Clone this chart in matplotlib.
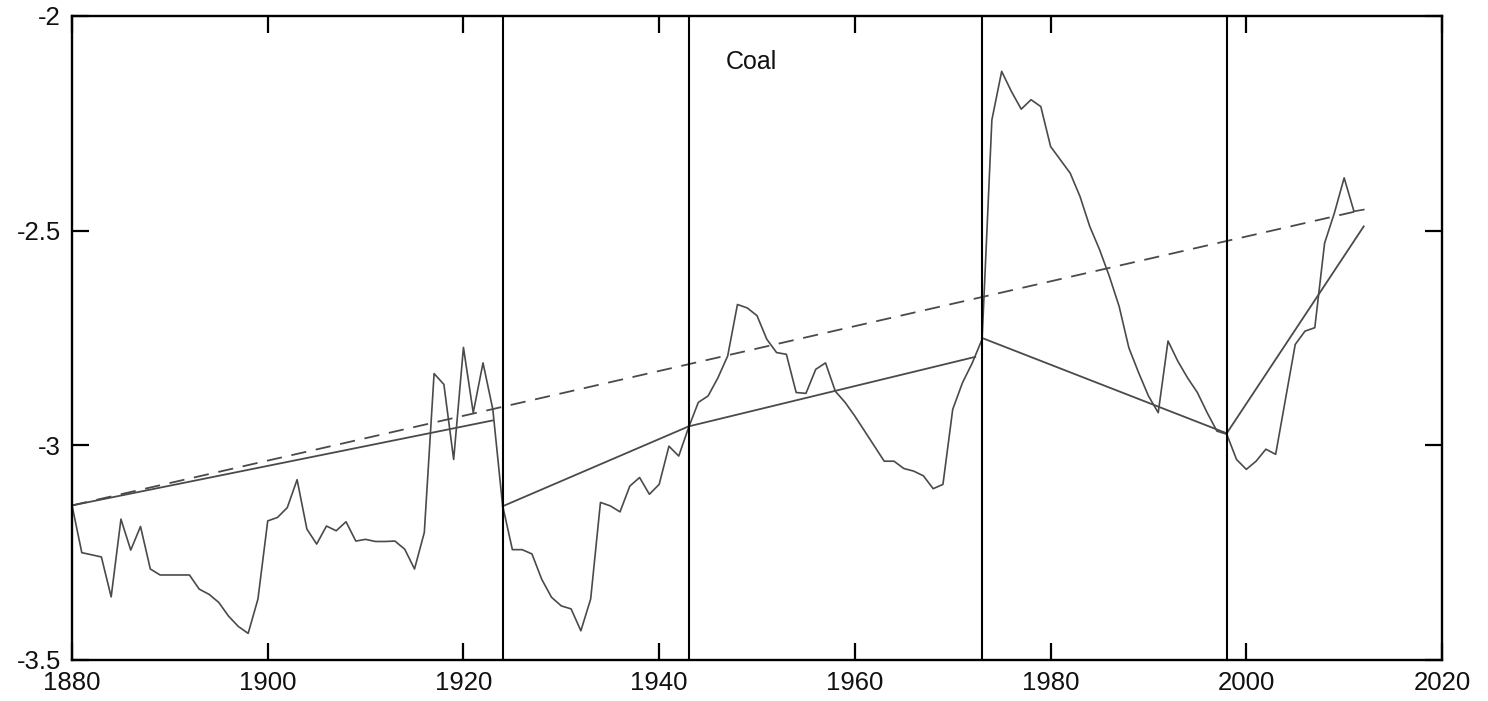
import numpy as np
import matplotlib
matplotlib.use('Agg')
import matplotlib.pyplot as plt

# annual series, 1880-2012
years = list(range(1880, 2013))
coal = [
    -3.140, -3.250, -3.255, -3.260, -3.353, -3.172, -3.244, -3.189, -3.288, -3.302,  # 1880s
    -3.302, -3.302, -3.302, -3.335, -3.347, -3.366, -3.398, -3.422, -3.438, -3.358,  # 1890s
    -3.176, -3.168, -3.145, -3.080, -3.195, -3.230, -3.188, -3.199, -3.178, -3.223,  # 1900s
    -3.219, -3.224, -3.224, -3.223, -3.242, -3.288, -3.203, -2.833, -2.858, -3.033,  # 1910s
    -2.772, -2.924, -2.808, -2.916, -3.140, -3.243, -3.243, -3.253, -3.312, -3.354,  # 1920s
    -3.374, -3.381, -3.432, -3.358, -3.133, -3.141, -3.155, -3.095, -3.075, -3.114,  # 1930s
    -3.091, -3.002, -3.025, -2.959, -2.900, -2.885, -2.843, -2.792, -2.672, -2.680,  # 1940s
    -2.698, -2.753, -2.784, -2.788, -2.877, -2.879, -2.823, -2.808, -2.874, -2.900,  # 1950s
    -2.932, -2.967, -3.002, -3.037, -3.037, -3.054, -3.060, -3.071, -3.101, -3.091,  # 1960s
    -2.916, -2.854, -2.808, -2.753, -2.242, -2.129, -2.176, -2.217, -2.195, -2.211,  # 1970s
    -2.304, -2.335, -2.366, -2.420, -2.490, -2.544, -2.606, -2.676, -2.773, -2.831,  # 1980s
    -2.885, -2.924, -2.757, -2.804, -2.843, -2.877, -2.924, -2.967, -2.974, -3.033,  # 1990s
    -3.056, -3.037, -3.009, -3.021, -2.893, -2.765, -2.734, -2.726, -2.529, -2.459,  # 2000s
    -2.377, -2.455, -2.451,                                                          # 2010s
]

# break dates (vertical lines)
breaks = [1924, 1943, 1973, 1998]

# segmented trend: start/end of each piece
seg_x0 = [1880, 1924, 1943, 1973, 1998]
seg_x1 = [1923, 1943, 1972.3, 1998, 2012]
seg_y0 = [-3.140, -3.142, -2.956, -2.750, -2.972]
seg_y1 = [-2.942, -2.956, -2.794, -2.972, -2.490]

# single linear trend (dashed)
lin_x = [1880, 2012]
lin_y = [-3.140, -2.451]

xticks = [1880, 1900, 1920, 1940, 1960, 1980, 2000, 2020]
yticks = [-3.5, -3.0, -2.5, -2.0]
ytick_labels = ['-3.5', '-3', '-2.5', '-2']

plt.rcParams['font.family'] = ['Liberation Sans', 'DejaVu Sans']
plt.rcParams['lines.scale_dashes'] = False

fig = plt.figure(figsize=(14.88, 7.01), dpi=100)
ax = fig.add_axes([0.0484, 0.0585, 0.9207, 0.9187])

ax.plot(years, coal, color='#4a4a4a', lw=1.2)
for a, b, c, d in zip(seg_x0, seg_x1, seg_y0, seg_y1):
    ax.plot([a, b], [c, d], color='#4a4a4a', lw=1.3)
ax.plot(lin_x, lin_y, color='#4a4a4a', lw=1.3, dashes=(11, 7))
for b in breaks:
    ax.axvline(b, color='black', lw=1.5)

ax.text(1949.4, -2.107, 'Coal', fontsize=18, ha='center', va='center',
        color='#111111')

ax.set_xlim(1880, 2020)
ax.set_ylim(-3.5, -2.0)
ax.set_xticks(xticks)
ax.set_yticks(yticks)
ax.set_yticklabels(ytick_labels)
ax.tick_params(direction='in', length=12, width=1.6, top=True, right=True,
               labelsize=18.5, labelcolor='#111111')
ax.tick_params(axis='x', pad=8)
ax.tick_params(axis='y', pad=8)
for s in ax.spines.values():
    s.set_linewidth(1.7)

fig.savefig('out.png', dpi=100)
